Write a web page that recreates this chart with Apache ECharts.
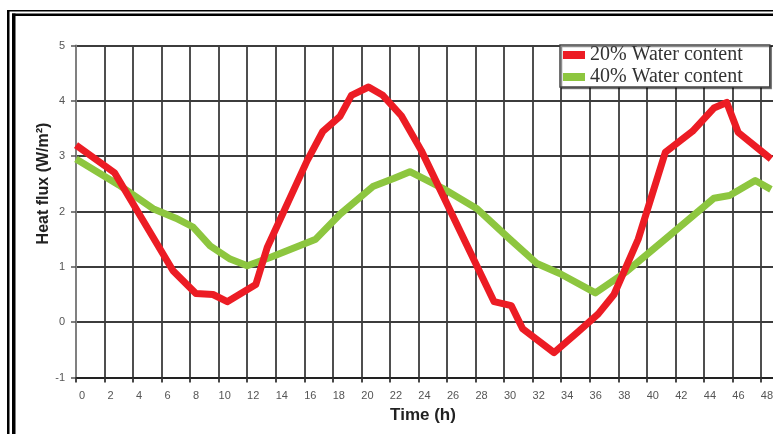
<!DOCTYPE html>
<html>
<head>
<meta charset="utf-8">
<title>Heat flux vs time</title>
<script src="https://cdn.jsdelivr.net/npm/echarts@6/dist/echarts.min.js"></script>
<style>
  html, body { margin: 0; padding: 0; background: #fff; }
  #chart { width: 773px; height: 434px; }
</style>
</head>
<body>
<div id="chart"></div>
<script>
// Heat flux readings (W/m²) against elapsed time (h) for two soil water contents
const seriesNames = ['20% Water content', '40% Water content'];

const hours20 = [0, 2.7, 6.8, 8.4, 9.6, 10.6, 12.6, 13.4, 16.2, 17.3, 18.5, 19.3, 20.5, 21.5, 22.8, 24.2,
  29.3, 30.5, 31.3, 33.5, 35.2, 36.6, 37.7, 39.4, 41.3, 43.2, 44.7, 45.6, 46.4, 48.7];
const flux20 = [3.2, 2.7, 0.93, 0.52, 0.5, 0.37, 0.68, 1.35, 2.92, 3.45, 3.72, 4.1, 4.25, 4.1, 3.73, 3.1,
  0.37, 0.3, -0.12, -0.55, -0.17, 0.15, 0.5, 1.5, 3.07, 3.45, 3.87, 3.97, 3.43, 2.95];

const hours40 = [0, 3.0, 5.4, 7.0, 8.2, 9.4, 10.8, 12.0, 13.6, 16.8, 18.5, 20.8, 22.3, 23.4, 25.7, 28.1,
  30.4, 32.3, 33.9, 36.4, 38.6, 41.2, 44.7, 45.8, 47.6, 48.7];
const flux40 = [2.95, 2.48, 2.05, 1.88, 1.72, 1.38, 1.14, 1.02, 1.17, 1.5, 1.95, 2.45, 2.6, 2.72, 2.42, 2.05,
  1.5, 1.06, 0.88, 0.53, 0.92, 1.48, 2.24, 2.29, 2.56, 2.4];

const yMin = -1, yMax = 5;
const xMin = 0, xMax = 50, xStep = 2;

const pairs = (xs, ys) => xs.map((x, i) => [x, ys[i]]);

const chart = echarts.init(document.getElementById('chart'), null, { renderer: 'canvas' });

const gridLine = { show: true, lineStyle: { color: '#3c3c3c', width: 1.8 } };

chart.setOption({
  animation: false,
  backgroundColor: '#fff',
  // the plot runs on past the right edge of the figure
  grid: { left: 76, top: 45.5, width: 713.5, height: 332, containLabel: false, outerBoundsMode: 'none' },
  xAxis: {
    type: 'value',
    min: xMin, max: xMax, interval: xStep,
    axisLine: { show: true, onZero: false, lineStyle: { color: '#222', width: 2 } },
    axisTick: { show: true, length: 5, lineStyle: { color: '#333', width: 1.8 } },
    axisLabel: {
      margin: 13, color: '#555', fontSize: 11,
      fontFamily: 'Liberation Sans, Arial, sans-serif',
      padding: [0, 0, 0, 12]
    },
    splitLine: gridLine
  },
  yAxis: {
    type: 'value',
    min: yMin, max: yMax, interval: 1,
    axisLine: { show: true, lineStyle: { color: '#808080', width: 2 } },
    axisTick: { show: true, length: 5, lineStyle: { color: '#555', width: 1.5 } },
    axisLabel: {
      margin: 11, color: '#555', fontSize: 11,
      fontFamily: 'Liberation Sans, Arial, sans-serif'
    },
    splitLine: gridLine
  },
  legend: {
    left: 560, top: 45,
    orient: 'vertical',
    icon: 'rect',
    itemWidth: 22, itemHeight: 8, itemGap: 2,
    padding: [0, 27, 0, 3],
    backgroundColor: '#fff',
    borderColor: '#444', borderWidth: 1.5,
    shadowColor: 'rgba(0,0,0,0.45)', shadowOffsetX: 1.5, shadowOffsetY: 1.5, shadowBlur: 0,
    textStyle: {
      fontFamily: 'Liberation Serif, Times New Roman, serif',
      fontSize: 20, lineHeight: 16, color: '#333'
    },
    data: seriesNames
  },
  series: [
    {
      name: seriesNames[0], type: 'line', z: 4,
      data: pairs(hours20, flux20),
      showSymbol: false, smooth: false,
      lineStyle: { color: '#ec1c24', width: 7, join: 'round', cap: 'butt' },
      itemStyle: { color: '#ec1c24' }
    },
    {
      name: seriesNames[1], type: 'line', z: 3,
      data: pairs(hours40, flux40),
      showSymbol: false, smooth: false,
      lineStyle: { color: '#8dc63f', width: 7, join: 'round', cap: 'butt' },
      itemStyle: { color: '#8dc63f' }
    }
  ],
  graphic: [
    // double frame around the figure
    { type: 'rect', shape: { x: 7, y: 10, width: 2.5, height: 430 }, style: { fill: '#000' }, z: 100 },
    { type: 'rect', shape: { x: 7, y: 10, width: 800, height: 1.6 }, style: { fill: '#000' }, z: 100 },
    { type: 'rect', shape: { x: 12, y: 13.4, width: 3.5, height: 430 }, style: { fill: '#000' }, z: 100 },
    { type: 'rect', shape: { x: 12, y: 13.4, width: 800, height: 2.7 }, style: { fill: '#000' }, z: 100 },
    // axis titles
    {
      type: 'text', x: 44, y: 183.5, rotation: Math.PI / 2, z: 100,
      style: {
        text: 'Heat flux (W/m²)', align: 'center', verticalAlign: 'middle',
        fontFamily: 'Liberation Sans, Arial, sans-serif', fontWeight: 'bold', fontSize: 16, fill: '#222'
      }
    },
    {
      type: 'text', x: 423, y: 415, z: 100,
      style: {
        text: 'Time (h)', align: 'center', verticalAlign: 'middle',
        fontFamily: 'Liberation Sans, Arial, sans-serif', fontWeight: 'bold', fontSize: 17, fill: '#222'
      }
    }
  ]
});
</script>
</body>
</html>
